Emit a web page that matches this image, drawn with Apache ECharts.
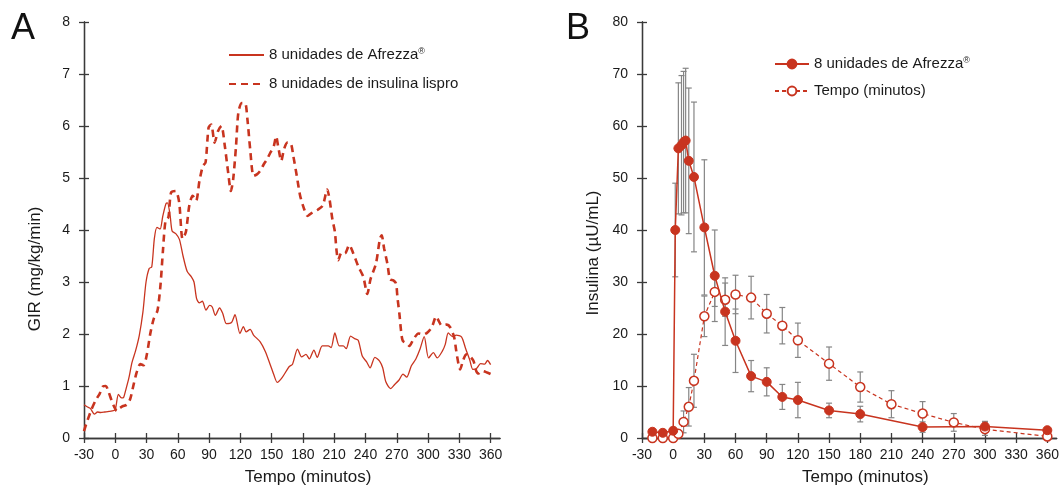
<!DOCTYPE html>
<html>
<head>
<meta charset="utf-8">
<script src="https://cdn.jsdelivr.net/npm/echarts@6/dist/echarts.min.js"></script>
<style>
  html, body { margin: 0; padding: 0; background: #fff; }
  #chart { width: 1062px; height: 491px; }
</style>
</head>
<body>
<div id="chart"></div>
<script>
// --- painel A: taxa de infusao de glicose (GIR) ---
const girAfrezzaT = [
  -30, -27, -24, -20, -17, -14, -10, -6, -3, 0,
  3, 6, 8, 10, 13, 16, 19.5, 23, 26.5, 29.5,
  32.5, 35, 37.5, 40, 43, 45.5, 48.5, 50, 52.5, 54.5,
  58, 61.5, 65, 69, 73, 75.5, 78, 80.5, 83.5, 87,
  90.5, 93, 96, 100, 103, 106.5, 111.5, 114.8, 119.6, 122.9,
  125.5, 129.4, 132.6, 139, 144, 148.8, 152, 155.3, 160, 166.7,
  170, 174.8, 178.7, 182.9, 186.1, 190.5, 193.7, 198.5, 204.2, 207,
  210.6, 214.8, 218.6, 221.5, 225.7, 229.6, 233, 237, 241.2, 244.4,
  249, 253.5, 256.5, 259.5, 264, 268, 272, 276, 279.5, 284,
  288.3, 292.3, 296.3, 300.5, 305.1, 308.8, 313.7, 316.5, 319.4, 323.5,
  327, 332.2, 336, 340, 343, 346.7, 350.3, 354.3, 357, 360
];
const girAfrezzaV = [
  0.64, 0.60, 0.57, 0.46, 0.50, 0.49, 0.50, 0.51, 0.52, 0.55,
  0.84, 0.77, 0.78, 0.92, 1.15, 1.45, 1.68, 1.97, 2.42, 3.0,
  3.26, 3.29, 3.84, 4.05, 4.02, 4.26, 4.5, 4.52, 4.3, 3.98,
  3.93, 3.82, 3.5, 3.2, 3.1, 3.0, 2.68, 2.6, 2.63, 2.46,
  2.55, 2.52, 2.36, 2.5, 2.4, 2.2, 2.22, 2.37, 2.01, 2.14,
  2.04, 2.09, 1.98, 1.85, 1.66, 1.4, 1.22, 1.07, 1.16, 1.37,
  1.42, 1.71, 1.56, 1.61, 1.52, 1.69, 1.55, 1.77, 1.77, 1.74,
  2.02, 1.77, 1.77, 1.72, 1.96, 1.91, 1.88, 1.57, 1.46, 1.35,
  1.55, 1.48, 1.35, 1.08, 0.95, 1.03, 1.11, 1.23, 1.17, 1.39,
  1.52, 1.71, 1.95, 1.54, 1.64, 1.54, 1.67, 1.8, 2.02, 1.95,
  1.98, 1.94, 1.72, 1.5, 1.32, 1.34, 1.43, 1.42, 1.49, 1.41
];
const girLisproT = [
  -30, -28, -23, -19, -15, -12, -9, -6.5, -3.5, -1,
  1.5, 4, 7, 11, 14.3, 17.5, 20.8, 24, 27.2, 30.4,
  33.7, 37, 40.5, 43.4, 45.7, 48.2, 51, 53.5, 58, 61.3,
  64.5, 67.7, 71, 74.2, 77.5, 80.7, 84, 86.6, 89.5, 92,
  95.3, 98.5, 101.8, 105.1, 108.3, 110.9, 113.1, 115.8, 118, 121.2,
  124.5, 126.8, 129.4, 132.6, 135.8, 139.1, 142.3, 145.5, 148.8, 152,
  154.3, 156.2, 159.2, 161.8, 165, 168.3, 170.8, 174.1, 177.3, 181.2,
  184.4, 189.3, 194.2, 199, 203.3, 205.5, 208.2, 210.6, 212.2, 213.8,
  217, 220.3, 224.4, 228.3, 233.1, 237.9, 241.7, 244.9, 250, 253.9,
  255.5, 257.8, 261, 263.5, 266.7, 269.3, 270.6, 272.5, 274.1, 275.7,
  279.5, 282.1, 286, 290.8, 295.6, 299.4, 303.6, 307.8, 310, 313.2,
  318, 321.2, 325, 327, 329.2, 330.8, 333.4, 336.6, 339.8, 343.6,
  346.2, 348.5, 351.7, 356.5, 360
];
const girLisproV = [
  0.13, 0.26, 0.54, 0.72, 0.85, 0.99, 1.0, 0.89, 0.72, 0.6,
  0.52, 0.57, 0.61, 0.64, 0.75, 1.02, 1.28, 1.42, 1.4, 1.62,
  2.02, 2.3, 2.45, 2.95, 3.6, 4.18, 4.25, 4.72, 4.75, 4.53,
  3.83, 3.96, 4.47, 4.66, 4.56, 4.94, 5.23, 5.30, 5.97, 6.03,
  5.68, 5.90, 6.0, 5.61, 5.10, 4.75, 4.98, 5.61, 6.25, 6.44,
  6.44, 6.12, 5.55, 5.04, 5.07, 5.14, 5.26, 5.36, 5.49, 5.61,
  5.80, 5.61, 5.33, 5.55, 5.68, 5.67, 5.42, 5.04, 4.66, 4.40,
  4.27, 4.34, 4.39, 4.47, 4.78, 4.59, 4.21, 3.97, 3.61, 3.42,
  3.56, 3.55, 3.71, 3.55, 3.30, 3.10, 2.77, 3.06, 3.35, 3.84,
  3.90, 3.65, 3.35, 3.05, 3.03, 2.97, 2.71, 2.39, 2.06, 1.87,
  1.82, 1.77, 1.90, 2.01, 1.99, 2.03, 2.13, 2.34, 2.26, 2.16,
  2.18, 2.13, 1.94, 1.68, 1.42, 1.32, 1.48, 1.61, 1.58, 1.48,
  1.29, 1.24, 1.29, 1.26, 1.23
];

// --- painel B: insulina serica, media +/- erro ---
const insAfrezzaT = [-20, -10, 0, 2, 5, 8, 10, 12, 15, 20, 30, 40, 50, 60, 75, 90, 105, 120, 150, 180, 240, 300, 360];
const insAfrezzaV = [1.2, 1.0, 1.4, 40, 55.7, 56.3, 56.9, 57.2, 53.3, 50.2, 40.5, 31.2, 24.3, 18.7, 11.9, 10.8, 7.9, 7.3, 5.3, 4.6, 2.1, 2.2, 1.5];
const insAfrezzaErr = [0.3, 0.3, 0.5, 9, 12.6, 13.4, 13.6, 13.9, 14, 14.4, 13, 8.8, 6.5, 6.1, 3, 2.7, 2.4, 3.4, 1.4, 1.5, 1, 1, 0.3];
const insLisproT = [-20, -10, 0, 5, 10, 15, 20, 30, 40, 50, 60, 75, 90, 105, 120, 150, 180, 210, 240, 270, 300, 360];
const insLisproV = [0, 0, 0, 0.8, 3.1, 6, 11, 23.4, 28.1, 26.6, 27.6, 27, 23.9, 21.6, 18.8, 14.3, 9.8, 6.5, 4.7, 3, 1.7, 0.3];
const insLisproErr = [0, 0, 0, 0.5, 2.1, 3.7, 5.1, 3.9, 2.8, 3.2, 3.7, 4.1, 3.7, 3.5, 3.3, 3.2, 2.9, 2.6, 2.3, 1.7, 1.2, 0.2];

const timeTicks = [-30, 0, 30, 60, 90, 120, 150, 180, 210, 240, 270, 300, 330, 360];

const RED = '#c8341f';
const AXIS = '#3a3a3a';
const TXT = '#1a1a1a';
const FONT = '"Liberation Sans", Arial, sans-serif';

const legendNames = {
  A1: '8 unidades de Afrezza{sup|®}',
  A2: '8 unidades de insulina lispro',
  B1: '8 unidades de Afrezza{sup|®}',
  B2: 'Tempo (minutos)'
};
const legendRich = { sup: { fontSize: 9, verticalAlign: 'top', padding: [0, 0, 7, 0] } };

const zip = (t, v) => t.map((x, i) => [x, v[i]]);
const bars = (t, v, e) => t.map((x, i) => [x, v[i] - e[i], v[i] + e[i]]);

function errorBar(params, api) {
  const x = api.value(0);
  const lo = api.coord([x, api.value(1)]);
  const hi = api.coord([x, api.value(2)]);
  const hw = 3;
  const style = { stroke: '#858585', lineWidth: 1.2 };
  return {
    type: 'group',
    children: [
      { type: 'line', shape: { x1: hi[0], y1: hi[1], x2: lo[0], y2: lo[1] }, style },
      { type: 'line', shape: { x1: hi[0] - hw, y1: hi[1], x2: hi[0] + hw, y2: hi[1] }, style },
      { type: 'line', shape: { x1: lo[0] - hw, y1: lo[1], x2: lo[0] + hw, y2: lo[1] }, style }
    ]
  };
}

// eixo de tempo; a copia (main = false) so desenha os tracos para dentro
function timeAxis(grid, main) {
  return {
    type: 'value', gridIndex: grid, position: 'bottom',
    min: -30, max: 369,
    name: main ? 'Tempo (minutos)' : '',
    nameLocation: 'middle', nameGap: 31,
    nameTextStyle: { fontSize: 17, color: TXT, padding: [0, 0, 0, 32] },
    axisLine: { show: true, onZero: false, lineStyle: { color: AXIS, width: 1.3 } },
    axisTick: { show: true, inside: !main, length: 5, customValues: timeTicks, lineStyle: { color: AXIS, width: 1.3 } },
    axisLabel: { show: main, customValues: timeTicks, fontSize: 14, color: TXT, margin: 10 },
    splitLine: { show: false }
  };
}
function valueAxis(grid, main, max, step, name, shift) {
  return {
    type: 'value', gridIndex: grid, position: 'left',
    min: 0, max: max, interval: step,
    name: main ? name : '',
    nameLocation: 'middle', nameGap: 40, nameRotate: 90,
    nameTextStyle: { fontSize: 17, color: TXT, padding: [0, shift, 0, 0] },
    axisLine: { show: true, onZero: false, lineStyle: { color: AXIS, width: 1.3 } },
    axisTick: { show: true, inside: !main, length: 5, lineStyle: { color: AXIS, width: 1.3 } },
    axisLabel: { show: main, fontSize: 14, color: TXT, margin: 14 },
    splitLine: { show: false }
  };
}

const chart = echarts.init(document.getElementById('chart'));
chart.setOption({
  animation: false,
  textStyle: { fontFamily: FONT },
  title: [
    { text: 'A', left: 11, top: 11, padding: 0, textStyle: { fontSize: 36, fontWeight: 'normal', color: '#111' } },
    { text: 'B', left: 566, top: 11, padding: 0, textStyle: { fontSize: 36, fontWeight: 'normal', color: '#111' } }
  ],
  legend: [
    {
      data: ['A1', 'A2'], orient: 'vertical', left: 223, top: 42,
      itemWidth: 35, itemHeight: 14, itemGap: 14,
      itemStyle: { opacity: 0 },
      formatter: n => legendNames[n],
      textStyle: { fontSize: 15, color: TXT, rich: legendRich }
    },
    {
      data: ['B1', 'B2'], orient: 'vertical', left: 769, top: 51,
      itemWidth: 34, itemHeight: 11, itemGap: 12,
      formatter: n => legendNames[n],
      textStyle: { fontSize: 15, color: TXT, rich: legendRich }
    }
  ],
  grid: [
    { left: 84, top: 22, width: 416, height: 418 },
    { left: 642, top: 22, width: 416, height: 418 }
  ],
  xAxis: [timeAxis(0, true), timeAxis(0, false), timeAxis(1, true), timeAxis(1, false)],
  yAxis: [
    valueAxis(0, true, 8, 1, 'GIR (mg/kg/min)', 78),
    valueAxis(0, false, 8, 1, '', 0),
    valueAxis(1, true, 80, 10, 'Insulina (µU/mL)', 46),
    valueAxis(1, false, 80, 10, '', 0)
  ],
  series: [
    {
      name: 'A1', type: 'line', xAxisIndex: 0, yAxisIndex: 0,
      data: zip(girAfrezzaT, girAfrezzaV), symbol: 'none', smooth: 0.25,
      lineStyle: { color: RED, width: 1.3 }, itemStyle: { color: RED }
    },
    {
      name: 'A2', type: 'line', xAxisIndex: 0, yAxisIndex: 0,
      data: zip(girLisproT, girLisproV), symbol: 'none', smooth: 0.25,
      lineStyle: { color: RED, width: 2.6, type: [7, 5] }, itemStyle: { color: RED }
    },
    {
      name: 'errB2', type: 'custom', xAxisIndex: 2, yAxisIndex: 2, z: 1,
      data: bars(insLisproT, insLisproV, insLisproErr), renderItem: errorBar,
      encode: { x: 0, y: [1, 2] }
    },
    {
      name: 'errB1', type: 'custom', xAxisIndex: 2, yAxisIndex: 2, z: 1,
      data: bars(insAfrezzaT, insAfrezzaV, insAfrezzaErr), renderItem: errorBar,
      encode: { x: 0, y: [1, 2] }
    },
    {
      name: 'B2', type: 'line', xAxisIndex: 2, yAxisIndex: 2, z: 3,
      data: zip(insLisproT, insLisproV), symbol: 'circle', symbolSize: 9,
      lineStyle: { color: RED, width: 1.2, type: [4, 3] },
      itemStyle: { color: '#fff', borderColor: RED, borderWidth: 1.5 }
    },
    {
      name: 'B1', type: 'line', xAxisIndex: 2, yAxisIndex: 2, z: 4,
      data: zip(insAfrezzaT, insAfrezzaV), symbol: 'circle', symbolSize: 9,
      lineStyle: { color: RED, width: 1.5 },
      itemStyle: { color: RED, borderColor: RED, borderWidth: 1 }
    }
  ]
});
</script>
</body>
</html>
